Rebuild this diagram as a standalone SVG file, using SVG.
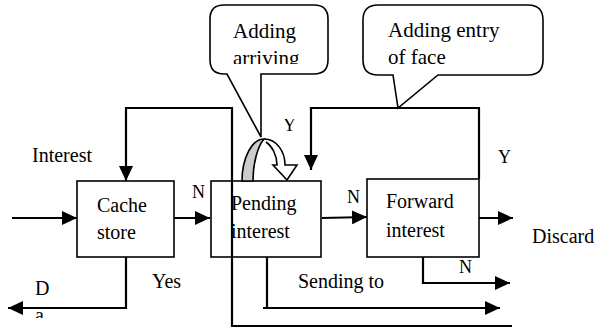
<svg xmlns="http://www.w3.org/2000/svg" width="596" height="329" viewBox="0 0 596 329" font-family="'Liberation Serif', 'DejaVu Serif', serif">
<style>
text{font-family:'Liberation Serif','DejaVu Serif',serif;fill:#000}
.t{font-size:20px}
.s{font-size:18px}
.c{font-size:21px}
.box{fill:#fff;stroke:#000;stroke-width:1.6}
.call{fill:#fff;stroke:#000;stroke-width:1.6}
.ln{fill:none;stroke:#000;stroke-width:2.2}
</style>
<defs>
<marker id="ah" viewBox="0 0 15 14" refX="15" refY="7" markerWidth="15" markerHeight="14" markerUnits="userSpaceOnUse" orient="auto">
<path d="M0,0 L15,7 L0,14 Z" fill="#000"/>
</marker>
<clipPath id="cc"><rect x="0" y="0" width="596" height="64"/></clipPath>
<clipPath id="cy"><rect x="0" y="119" width="596" height="20"/></clipPath>
<clipPath id="ca"><rect x="0" y="300" width="596" height="18"/></clipPath>
</defs>

<g id="callout-arriving">
<path class="call" d="M224,5 H314 Q328,5 328,19 V60 Q328,74 314,74 H261 V137 L227,74 H224 Q210,74 210,60 V19 Q210,5 224,5 Z"/>
<text class="c" x="233" y="38">Adding</text>
<text class="c" x="233" y="65" clip-path="url(#cc)">arriving</text>
</g>

<g id="callout-face">
<path class="call" d="M378,5 H528 Q543,5 543,20 V60 Q543,75 528,75 H438 L398,108 L393,75 H378 Q363,75 363,60 V20 Q363,5 378,5 Z"/>
<text class="c" x="388" y="37">Adding entry</text>
<text class="c" x="388" y="64" clip-path="url(#cc)">of face</text>
</g>

<g id="cache-store">
<rect class="box" x="77" y="181" width="97" height="76"/>
<text class="t" x="97" y="212">Cache</text>
<text class="t" x="97" y="239">store</text>
</g>

<g id="pending-interest">
<rect class="box" x="211" y="181" width="110" height="76"/>
<text class="t" x="231" y="210">Pending</text>
<text class="t" x="231" y="238">interest</text>
</g>

<g id="forward-interest">
<rect class="box" x="367" y="179" width="112" height="78"/>
<text class="t" x="386" y="208">Forward</text>
<text class="t" x="386" y="237">interest</text>
</g>

<g id="loop-arrow">
<path d="M242,181 C242,158 252,139 264,139 C258,146 253,162 253,181 Z" fill="#ccc" stroke="#000" stroke-width="1.6"/>
<path d="M264,139 C277,139 285,152 285,165 L297,165 L287,180 L273,165 L277,165 C277,155 272,146 266,142" fill="#fff" stroke="#000" stroke-width="1.6"/>
</g>

<g id="connectors">
<path class="ln" d="M12,218 H77" marker-end="url(#ah)"/>
<path class="ln" d="M174,218 H210" marker-end="url(#ah)"/>
<path class="ln" d="M322,218 L367,217" marker-end="url(#ah)"/>
<path class="ln" d="M479,218 H513" marker-end="url(#ah)"/>
<path class="ln" d="M423,257 V283 H510" marker-end="url(#ah)"/>
<path class="ln" d="M267,257 V308"/>
<path class="ln" d="M263,308 H500" marker-end="url(#ah)"/>
<path class="ln" d="M126,257 V308 H8" marker-end="url(#ah)"/>
<path class="ln" d="M512,326 H232 V108 H126 V181" marker-end="url(#ah)"/>
<path class="ln" d="M479,179 V108 H311 V170" marker-end="url(#ah)"/>
</g>

<g id="labels">
<text class="t" x="32" y="162">Interest</text>
<text class="s" x="192" y="198">N</text>
<text class="s" x="347" y="203">N</text>
<text class="s" x="459" y="273">N</text>
<text class="s" x="498" y="163">Y</text>
<text class="s" x="283" y="131" clip-path="url(#cy)">Y</text>
<text class="t" x="532" y="243">Discard</text>
<text class="t" x="152" y="288">Yes</text>
<text class="t" x="298" y="288">Sending to</text>
<text class="t" x="35" y="295">D</text>
<text class="t" x="35" y="322" clip-path="url(#ca)">a</text>
</g>
</svg>
